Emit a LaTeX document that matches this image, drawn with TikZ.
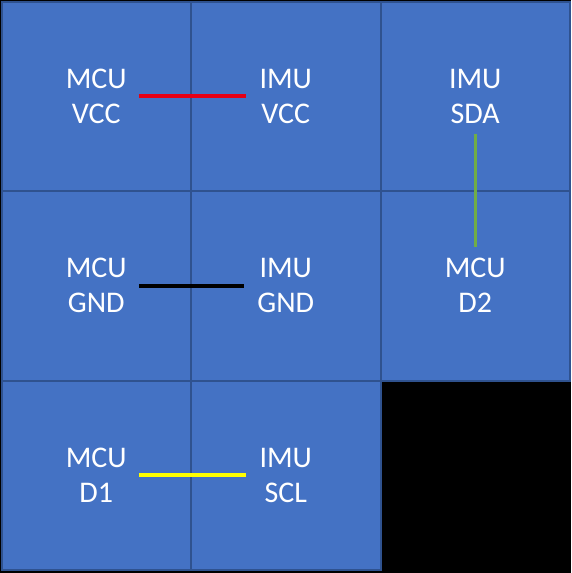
\documentclass[tikz,border=0pt]{standalone}
\usepackage{fontspec}
\setmainfont{Carlito}
\definecolor{cellBlue}{HTML}{4472C4}
\definecolor{cellBorder}{HTML}{2F528F}
\definecolor{wireRed}{RGB}{230,0,20}
\definecolor{wireGreen}{HTML}{70AD47}
\definecolor{wireYellow}{RGB}{255,255,0}
\begin{document}
\begin{tikzpicture}[x=1pt, y=-1pt,
    cellStyle/.style={rectangle, draw=cellBorder, fill=cellBlue, line width=2pt, minimum size=189.5pt, inner sep=0pt},
    pinStyle/.style={text=white, align=center, inner sep=0pt, font=\fontsize{30}{35}\selectfont},
    wireStyle/.style={line width=3.6pt, shorten <=12pt, shorten >=13pt}]
    \fill[black] (0, 0) rectangle (571, 573);
    \useasboundingbox (0, 0) rectangle (571, 573);

    \node[cellStyle](c11) at (96.25, 96.25) {};
    \node[cellStyle](c12) at (285.75, 96.25) {};
    \node[cellStyle](c13) at (475.25, 96.25) {};
    \node[cellStyle](c21) at (96.25, 285.75) {};
    \node[cellStyle](c22) at (285.75, 285.75) {};
    \node[cellStyle](c23) at (475.25, 285.75) {};
    \node[cellStyle](c31) at (96.25, 475.25) {};
    \node[cellStyle](c32) at (285.75, 475.25) {};

    \node[pinStyle](mcuVcc) at (c11) {MCU\\VCC};
    \node[pinStyle](imuVcc) at (c12) {IMU\\VCC};
    \node[pinStyle](imuSda) at (c13) {IMU\\SDA};
    \node[pinStyle](mcuGnd) at (c21) {MCU\\GND};
    \node[pinStyle](imuGnd) at (c22) {IMU\\GND};
    \node[pinStyle](mcuD2) at (c23) {MCU\\D2};
    \node[pinStyle](mcuD1) at (c31) {MCU\\D1};
    \node[pinStyle](imuScl) at (c32) {IMU\\SCL};

    \draw[wireStyle, wireRed] (mcuVcc) -- (imuVcc);
    \draw[wireStyle, black] (mcuGnd) -- (imuGnd);
    \draw[wireStyle, wireYellow] (mcuD1) -- (imuScl);
    \draw[wireStyle, wireGreen, line width=3pt, shorten <=10pt, shorten >=11pt] (imuSda) -- (mcuD2);
\end{tikzpicture}
\end{document}
